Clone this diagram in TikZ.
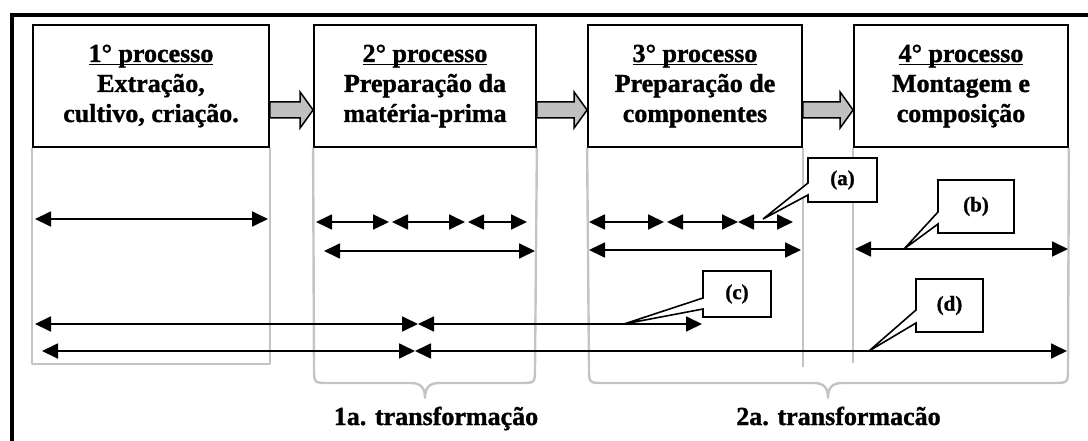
\documentclass[tikz,border=0pt]{standalone}
\usepackage{fontspec}
\setmainfont{Liberation Serif}[BoldFont={Liberation Serif Bold}]
\newfontfamily\tbold{Liberation Serif Bold}[FakeBold=1.2]
\usetikzlibrary{arrows.meta,calc}
\definecolor{blockgrey}{RGB}{192,192,192}
\definecolor{lightline}{RGB}{196,196,196}
\newcommand\myul[1]{\setbox0\hbox{#1}\rlap{\rule[-3.5pt]{\wd0}{1.9pt}}\box0}
\begin{document}
\begin{tikzpicture}[x=1pt,y=-1pt,
  procbox/.style={draw, line width=1.8pt, fill=white, minimum width=#1, minimum height=122pt, inner sep=0pt},
  boxtxt/.style={anchor=base, inner sep=0pt, font=\tbold\fontsize{26}{30}\selectfont},
  transf/.style={anchor=base, inner sep=0pt, font=\tbold\fontsize{26}{30}\selectfont},
  calltxt/.style={inner sep=0pt, font=\tbold\fontsize{21}{24}\selectfont},
  greyline/.style={draw=lightline, line width=2.4pt, line join=round},
  blockarrow/.style={draw, line width=1.5pt, fill=blockgrey, line join=miter},
  dbl/.style={{Triangle[length=16pt,width=15pt]}-{Triangle[length=16pt,width=15pt]}, line width=1.8pt},
  callout/.style={draw, fill=white, line width=1.6pt, line join=miter},
]
\useasboundingbox (0,0) rectangle (1088,441);
\clip (0,0) rectangle (1088,441);

% outer frame
\draw[line width=4pt] (11.5,470) -- (11.5,15) -- (1110,15);

% process boxes
\node[procbox=236pt] (p1) at (151,86) {};
\node[procbox=222pt] (p2) at (425,86) {};
\node[procbox=214pt] (p3) at (695,86) {};
\node[procbox=214pt] (p4) at (961,86) {};

% grey guide lines and braces
\draw[greyline] (p1.south west) -- (p1.south west |- 0,364) -- (p1.south east |- 0,364) -- (p1.south east);
\draw[greyline] (p2.south west) -- (314,368) .. controls (314,383) .. (329,383) -- (411,383)
   .. controls (421,383) and (425,388) .. (425,398)
   .. controls (425,388) and (429,383) .. (439,383) -- (520,383)
   .. controls (535,383) .. (535,368) -- (p2.south east);
\draw[greyline] (p3.south west) -- (589,368) .. controls (589,383) .. (604,383) -- (814,383)
   .. controls (824,383) and (828,388) .. (828,398)
   .. controls (828,388) and (832,383) .. (842,383) -- (1053,383)
   .. controls (1068,383) .. (1068,368) -- (p4.south east);
\draw[greyline] (p3.south east) -- (p3.south east |- 0,367);
\draw[greyline] (p4.south west) -- (p4.south west |- 0,363);

% box texts
\node[boxtxt] (t11) at (151,62) {\myul{1° processo}};
\node[boxtxt] (t12) at (151,92) {Extração,};
\node[boxtxt] (t13) at (151,122) {cultivo, criação.};
\node[boxtxt] (t21) at (425,62) {\myul{2° processo}};
\node[boxtxt] (t22) at (425,92) {Preparação da};
\node[boxtxt] (t23) at (425,122) {matéria-prima};
\node[boxtxt] (t31) at (695,62) {\myul{3° processo}};
\node[boxtxt] (t32) at (695,92) {Preparação de};
\node[boxtxt] (t33) at (695,122) {componentes};
\node[boxtxt] (t41) at (961,62) {\myul{4° processo}};
\node[boxtxt] (t42) at (961,92) {Montagem e};
\node[boxtxt] (t43) at (961,122) {composição};

% block arrows between boxes
\foreach \a/\b in {p1/p2,p2/p3,p3/p4}{
  \path (\a.east |- 0,110) coordinate (s) (\b.west |- 0,110) coordinate (e);
  \draw[blockarrow] ($(s)+(0,-8)$) -- ($(e)+(-13,-8)$) -- ($(e)+(-13,-18)$) -- (e)
     -- ($(e)+(-13,18)$) -- ($(e)+(-13,8)$) -- ($(s)+(0,8)$) -- cycle;
}

% measuring arrows
\coordinate (r1a) at (35,219);  \coordinate (r1b) at (268,219);
\draw[dbl] (r1a) -- (r1b);
\coordinate (r2a) at (316,222); \coordinate (r2b) at (389,222);
\coordinate (r2c) at (392,222); \coordinate (r2d) at (465,222);
\coordinate (r2e) at (468,222); \coordinate (r2f) at (527,222);
\draw[dbl] (r2a) -- (r2b);
\draw[dbl] (r2c) -- (r2d);
\draw[dbl] (r2e) -- (r2f);
\coordinate (r3a) at (324,251); \coordinate (r3b) at (535,251);
\draw[dbl] (r3a) -- (r3b);
\coordinate (r4a) at (589,222); \coordinate (r4b) at (664,222);
\coordinate (r4c) at (667,222); \coordinate (r4d) at (738,222);
\coordinate (r4e) at (793,222);
\draw[dbl] (r4a) -- (r4b);
\draw[dbl] (r4c) -- (r4d);
\draw[dbl] (r4d) -- (r4e);
\coordinate (r5a) at (589,250); \coordinate (r5b) at (801,250);
\draw[dbl] (r5a) -- (r5b);
\coordinate (r6a) at (855,249); \coordinate (r6b) at (1068,249);
\draw[dbl] (r6a) -- (r6b);
\coordinate (r7a) at (35,324); \coordinate (r7b) at (418,324); \coordinate (r7c) at (702,324);
\draw[dbl] (r7a) -- (r7b);
\draw[dbl] (r7b) -- (r7c);
\coordinate (r8a) at (42,351); \coordinate (r8b) at (415,351); \coordinate (r8c) at (1067,351);
\draw[dbl] (r8a) -- (r8b);
\draw[dbl] (r8b) -- (r8c);

% callouts
\draw[callout] (808,158) -- (877,158) -- (877,202) -- (808,202) -- (808,195) -- (763,219) -- (808,183) -- cycle;
\node[calltxt] (ca) at (842.5,180) {(a)};
\draw[callout] (938,180) -- (1014,180) -- (1014,233) -- (938,233) -- (938,224) -- (904,249) -- (938,212) -- cycle;
\node[calltxt] (cb) at (976,206.5) {(b)};
\draw[callout] (703,271) -- (771,271) -- (771,317) -- (703,317) -- (703,309) -- (624,324) -- (703,298) -- cycle;
\node[calltxt] (cc) at (737,294) {(c)};
\draw[callout] (916,279) -- (983,279) -- (983,332) -- (916,332) -- (916,323) -- (869,351) -- (916,310) -- cycle;
\node[calltxt] (cd) at (949.5,305.5) {(d)};

% transformation labels
\node[transf] (t1a) at (436,425) {1a. transformação};
\node[transf] (t2a) at (838.5,425) {2a. transformacão};
\end{tikzpicture}
\end{document}
